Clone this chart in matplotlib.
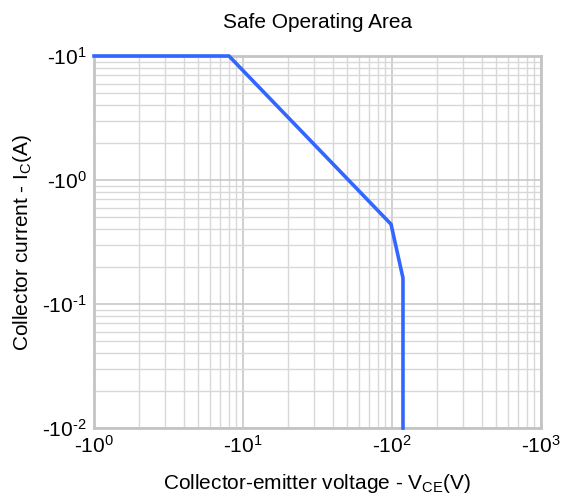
import numpy as np
import matplotlib
matplotlib.use('Agg')
import matplotlib.pyplot as plt
from matplotlib.ticker import FuncFormatter, LogLocator

plt.rcParams['font.family'] = ['Liberation Sans', 'DejaVu Sans']
plt.rcParams['mathtext.fontset'] = 'custom'
plt.rcParams['mathtext.rm'] = 'Liberation Sans'
plt.rcParams['mathtext.it'] = 'Liberation Sans'

# ------ DATA (magnitudes, plotted on log axes, labelled as negative)
vce = [1, 8.05, 98.5, 118.5, 118.5]
ic = [10, 10, 0.44, 0.162, 0.01]

x_ticks = [1, 10, 100, 1000]
y_ticks = [0.01, 0.1, 1, 10]


def neg_pow(v, pos):
    e = int(round(np.log10(v)))
    s = str(abs(e))
    if e < 0:
        s = '\u2010' + s  # plain hyphen, as in the original labels
    return '-10$^{' + s + '}$'


fig = plt.figure(figsize=(5.67, 4.99), dpi=100)
ax = fig.add_axes([94/567, 1-428/499, (541-94)/567, (428-56)/499])

ax.plot(vce, ic, color='#3366ff', linewidth=2.6, solid_joinstyle='miter', zorder=5, clip_on=False)

ax.set_xscale('log')
ax.set_yscale('log')
ax.set_xlim(1, 1000)
ax.set_ylim(0.01, 10)

ax.set_xticks(x_ticks)
ax.set_yticks(y_ticks)
ax.xaxis.set_minor_locator(LogLocator(base=10, subs=np.arange(2, 10), numticks=20))
ax.yaxis.set_minor_locator(LogLocator(base=10, subs=np.arange(2, 10), numticks=20))
ax.xaxis.set_major_formatter(FuncFormatter(neg_pow))
ax.yaxis.set_major_formatter(FuncFormatter(neg_pow))
ax.xaxis.set_minor_formatter(FuncFormatter(lambda v, p: ''))
ax.yaxis.set_minor_formatter(FuncFormatter(lambda v, p: ''))

ax.grid(True, which='major', color='#c8c8c8', linewidth=1.2)
ax.grid(True, which='minor', color='#d8d8d8', linewidth=1.0)
ax.set_axisbelow(True)

for s in ax.spines.values():
    s.set_color('#c4c4c4')
    s.set_linewidth(2)

ax.tick_params(which='both', length=0, labelsize=15, pad=5)

ax.set_title('Safe Operating Area', fontsize=15, pad=20)
ax.set_xlabel(r'Collector-emitter voltage - V$_\mathrm{CE}$(V)', fontsize=15, labelpad=11)
ax.set_ylabel(r'Collector current - I$_\mathrm{C}$(A)', fontsize=15, labelpad=6)

fig.savefig('out.png', dpi=100)
